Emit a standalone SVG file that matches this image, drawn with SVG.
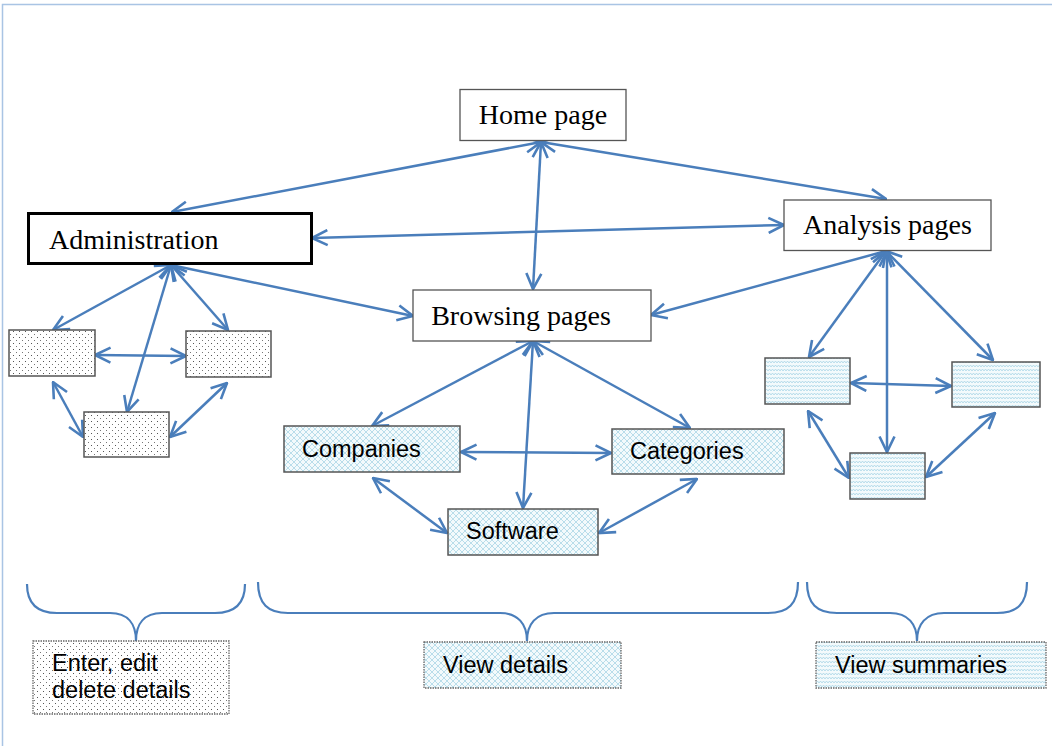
<svg xmlns="http://www.w3.org/2000/svg" width="1052" height="746" viewBox="0 0 1052 746">
<style>
.serif{font-family:"Liberation Serif","Times New Roman",serif;font-size:28px;fill:#000}
.sans{font-family:"Liberation Sans",Arial,sans-serif;font-size:23.5px;fill:#000}
.main{fill:#fff;stroke:#555;stroke-width:1.3}
.sub{stroke:#555;stroke-width:1.5}
.lbl{stroke:#666;stroke-width:1.3;stroke-dasharray:1.5 1}
.conn line{stroke:#4a7ebb;stroke-width:2.5;marker-start:url(#ah);marker-end:url(#ah)}
.brace{fill:none;stroke:#4a7ebb;stroke-width:2.2}
</style>
<defs>
<marker id="ah" viewBox="0 0 18 18" refX="17" refY="9" markerWidth="18" markerHeight="18" markerUnits="userSpaceOnUse" orient="auto-start-reverse">
<path d="M1.5,1.5 L17,9 L1.5,16.5" fill="none" stroke="#4a7ebb" stroke-width="2.6"/>
</marker>
<pattern id="dots" width="6" height="6" patternUnits="userSpaceOnUse">
<rect width="6" height="6" fill="#fff"/>
<rect x="1" y="1" width="1" height="1" fill="#555"/>
<rect x="4" y="4" width="1" height="1" fill="#777"/>
</pattern>
<pattern id="hatch" width="6" height="6" patternUnits="userSpaceOnUse">
<rect width="6" height="6" fill="#f3fafc"/>
<path d="M0,0 L6,6 M6,0 L0,6" stroke="#a9d6e6" stroke-width="0.8"/>
</pattern>
<pattern id="wave" width="6" height="4" patternUnits="userSpaceOnUse">
<rect width="6" height="4" fill="#f3fafc"/>
<path d="M0,3 L1.5,1 L3,3 L4.5,1 L6,3" fill="none" stroke="#a9d6e6" stroke-width="0.8"/>
</pattern>
</defs>
<rect width="1052" height="746" fill="#fff"/>
<path d="M2.5,746 V4.5 H1052" fill="none" stroke="#a9c4e4" stroke-width="1.5"/>

<g class="conn" id="connectors">
<line x1="541" y1="142" x2="172" y2="212"/>
<line x1="541" y1="142" x2="886" y2="199"/>
<line x1="541" y1="142" x2="533" y2="289"/>
<line x1="312" y1="238" x2="784" y2="225"/>
<line x1="171" y1="265" x2="413" y2="316"/>
<line x1="651" y1="315" x2="886" y2="251"/>
<line x1="171" y1="265" x2="53" y2="330"/>
<line x1="171" y1="265" x2="228" y2="330"/>
<line x1="171" y1="265" x2="127" y2="412"/>
<line x1="95" y1="355" x2="186" y2="356"/>
<line x1="53" y1="382" x2="83" y2="437"/>
<line x1="227" y1="383" x2="170" y2="437"/>
<line x1="533" y1="341" x2="372" y2="426"/>
<line x1="533" y1="341" x2="690" y2="428"/>
<line x1="533" y1="341" x2="523" y2="508"/>
<line x1="461" y1="452" x2="611" y2="453"/>
<line x1="373" y1="478" x2="447" y2="533"/>
<line x1="697" y1="479" x2="599" y2="533"/>
<line x1="886" y1="251" x2="809" y2="357"/>
<line x1="886" y1="251" x2="993" y2="360"/>
<line x1="887" y1="251" x2="887" y2="452"/>
<line x1="851" y1="383" x2="951" y2="386"/>
<line x1="808" y1="411" x2="849" y2="478"/>
<line x1="995" y1="413" x2="926" y2="477"/>
</g>

<g id="home"><rect class="main" x="460" y="89.5" width="166" height="51"/><text class="serif" x="543" y="124" text-anchor="middle">Home page</text></g>
<g id="admin"><rect x="28.5" y="213.5" width="283" height="50" fill="#fff" stroke="#000" stroke-width="3"/><text class="serif" x="49" y="249">Administration</text></g>
<g id="analysis"><rect class="main" x="784" y="200" width="207" height="50.5"/><text class="serif" x="887.5" y="234" text-anchor="middle">Analysis pages</text></g>
<g id="browsing"><rect class="main" x="413" y="290" width="238" height="51"/><text class="serif" x="521" y="325" text-anchor="middle">Browsing pages</text></g>

<g id="admin-left"><rect class="sub" x="9" y="330" width="86" height="46" fill="url(#dots)"/></g>
<g id="admin-right"><rect class="sub" x="186" y="331" width="85" height="46" fill="url(#dots)"/></g>
<g id="admin-bottom"><rect class="sub" x="84" y="412" width="85" height="45" fill="url(#dots)"/></g>

<g id="companies"><rect class="sub" x="284" y="426" width="176" height="46" fill="url(#hatch)"/><text class="sans" x="302" y="457">Companies</text></g>
<g id="categories"><rect class="sub" x="612" y="429" width="172" height="45" fill="url(#hatch)"/><text class="sans" x="630" y="459">Categories</text></g>
<g id="software"><rect class="sub" x="448" y="509" width="150" height="46" fill="url(#hatch)"/><text class="sans" x="466" y="539">Software</text></g>

<g id="analysis-left"><rect class="sub" x="765" y="358" width="85" height="46" fill="url(#wave)"/></g>
<g id="analysis-right"><rect class="sub" x="952" y="362" width="88" height="45" fill="url(#wave)"/></g>
<g id="analysis-bottom"><rect class="sub" x="850" y="453" width="75" height="46" fill="url(#wave)"/></g>

<g id="braces">
<path class="brace" d="M27,584 C27,604 37,613 57,613 H110 C128,613 136,624 136,641 C136,624 144,613 162,613 H215 C235,613 245,604 245,584"/>
<path class="brace" d="M258,582 C258,604 268,613 288,613 H500 C518,613 527,624 527,641 C527,624 536,613 554,613 H768 C788,613 798,604 798,582"/>
<path class="brace" d="M807,582 C807,604 817,613 837,613 H890 C908,613 917,624 917,641 C917,624 926,613 944,613 H997 C1017,613 1027,604 1027,582"/>
</g>

<g id="label-admin"><rect class="lbl" x="33" y="641" width="196" height="73" fill="url(#dots)"/><text class="sans" x="52" y="671">Enter, edit</text><text class="sans" x="52" y="698">delete details</text></g>
<g id="label-browse"><rect class="lbl" x="424" y="642" width="197" height="46" fill="url(#hatch)"/><text class="sans" x="443" y="673">View details</text></g>
<g id="label-analysis"><rect class="lbl" x="816" y="642" width="230" height="46" fill="url(#wave)"/><text class="sans" x="835" y="673">View summaries</text></g>
</svg>
